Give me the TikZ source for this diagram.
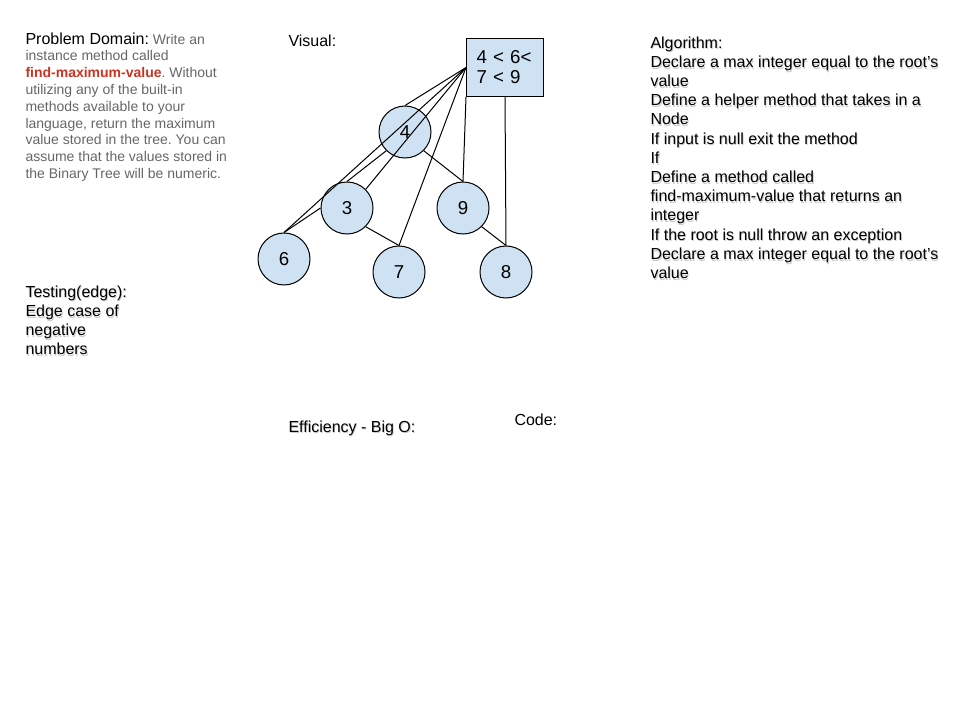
\documentclass[tikz,border=0pt]{standalone}
\usepackage{fontspec}
\setmainfont{Liberation Sans}
\frenchspacing
\definecolor{nodeblue}{HTML}{CFE2F3}
\definecolor{domaingray}{HTML}{666666}
\definecolor{domainred}{HTML}{CC3322}
\newcommand{\shadowed}[1]{\rlap{\kern0.6pt\raisebox{-1.3pt}{\textcolor{black!20}{#1}}}#1}
\begin{document}
\begin{tikzpicture}[x=0.75pt, y=-0.75pt, line width=0.75pt,
  main/.style={draw, circle, fill=nodeblue, minimum size=39pt, inner sep=0pt, font=\fontsize{14}{16}\selectfont},
  order/.style={draw, fill=nodeblue, text width=42.75pt, inner xsep=7.5pt, minimum height=43.5pt, anchor=north west, align=left, font=\fontsize{14}{15}\selectfont},
  txt/.style={anchor=north west, inner sep=0pt, align=left, font=\fontsize{12}{14.4}\selectfont}]
	\useasboundingbox (0,0) rectangle (960,720);

	\node[txt, font=\fontsize{10.5}{12.6}\selectfont, text=domaingray] (domain) at (25,32)
		{{\fontsize{12}{14.4}\selectfont\color{black}Problem Domain:} Write an\\
		instance method called\\
		{\color{domainred}\bfseries find-maximum-value}. Without\\
		utilizing any of the built-in\\
		methods available to your\\
		language, return the maximum\\
		value stored in the tree. You can\\
		assume that the values stored in\\
		the Binary Tree will be numeric.};
	\node[txt] (visual) at (288,34) {Visual:};
	\node[txt] (algo) at (650,36)
		{\shadowed{Algorithm:}\\
		\shadowed{Declare a max integer equal to the root's}\\
		\shadowed{value}\\
		\shadowed{Define a helper method that takes in a}\\
		\shadowed{Node}\\
		\shadowed{If input is null exit the method}\\
		\shadowed{If}\\
		\shadowed{Define a method called}\\
		\shadowed{find-maximum-value that returns an}\\
		\shadowed{integer}\\
		\shadowed{If the root is null throw an exception}\\
		\shadowed{Declare a max integer equal to the root's}\\
		\shadowed{value}};
	\node[txt] (testing) at (25,285)
		{\shadowed{Testing(edge):}\\\shadowed{Edge case of}\\\shadowed{negative}\\\shadowed{numbers}};
	\node[txt] (bigo) at (288,420) {\shadowed{Efficiency - Big O:}};
	\node[txt] (code) at (514,413) {Code:};

	% tree
	\node[main] (4) at (405,132) {4};
	\node[main] (3) at (347,208) {3};
	\node[main] (9) at (463,208) {9};
	\node[main] (6) at (284,259) {6};
	\node[main] (7) at (399,272) {7};
	\node[main] (8) at (506,272) {8};
	\node[order] (sum) at (466,38) {4 < 6<\\7 < 9};

	\draw (4.south west) -- (3.north);
	\draw (4.south east) -- (9.north);
	\draw (3.west) -- (6.north);
	\draw (3.south east) -- (7.north);
	\draw (9.south east) -- (8.north);

	% links from the box
	\draw (sum.west) -- (4.north);
	\draw (sum.west) -- (6.north);
	\draw (sum.west) -- (3.north east);
	\draw (sum.west) -- (7.north);
	\draw (sum.south west) -- (9.north);
	\draw (sum.south) -- (8.north);
\end{tikzpicture}
\end{document}
